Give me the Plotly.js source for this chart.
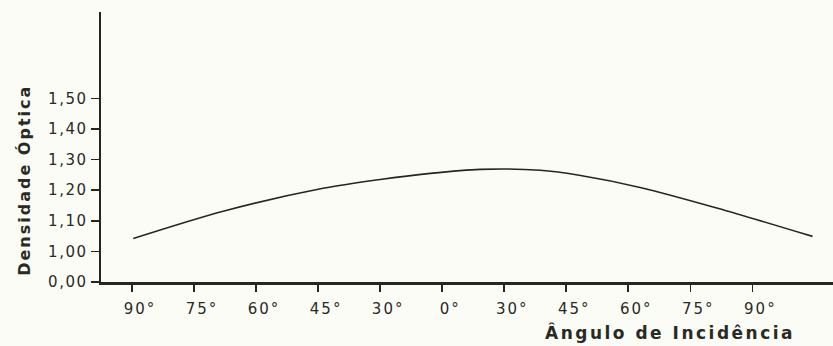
<!DOCTYPE html>
<html>
<head>
<meta charset="utf-8">
<script src="https://cdn.plot.ly/plotly-3.0.1.min.js"></script>
<style>
  html, body { margin: 0; padding: 0; background: #fcfcf7; }
  #chart { width: 833px; height: 346px; }
  .xtick text { letter-spacing: 2px; }
  .ytick text { letter-spacing: 1.5px; }
</style>
</head>
<body>
<div id="chart"></div>
<script>
// Tick labels of the angle axis (left side → right side)
var angleLabels = ["90°", "75°", "60°", "45°", "30°", "0°", "30°", "45°", "60°", "75°", "90°"];
var anglePositions = [0, 1, 2, 3, 4, 5, 6, 7, 8, 9, 10];

// Curve (position along the angle axis, optical density)
var curvePos = [0.02, 1.47, 3.08, 4.0, 4.81, 5.61, 6.58, 7.23, 8.19, 9.44, 10.97];
var density  = [1.042, 1.131, 1.206, 1.235, 1.255, 1.268, 1.265, 1.248, 1.209, 1.141, 1.049];

// Density axis ticks (bottom tick is the broken-axis "0,00")
var densTickVals = [0.9, 1.0, 1.1, 1.2, 1.3, 1.4, 1.5];
var densTickText = ["0,00", "1,00", "1,10", "1,20", "1,30", "1,40", "1,50"];

var ink = "#26261e";
var trace = {
  x: curvePos, y: density, mode: "lines", type: "scatter",
  line: { color: ink, width: 1.6, shape: "spline", smoothing: 0.8 },
  hoverinfo: "skip"
};

var layout = {
  width: 833, height: 346,
  margin: { l: 101, r: 0, t: 12, b: 64 },
  paper_bgcolor: "#fcfcf7", plot_bgcolor: "#fcfcf7",
  showlegend: false,
  font: { family: "DejaVu Sans, sans-serif", color: "#2a2a24", size: 15 },
  xaxis: {
    range: [-0.5, 11.3], showgrid: false, zeroline: false,
    showline: true, linecolor: ink, linewidth: 2.5,
    tickmode: "array", tickvals: anglePositions, ticktext: angleLabels,
    ticks: "outside", ticklen: 7, tickwidth: 1.6, tickcolor: ink,
    ticklabelshift: 8, ticklabelstandoff: 4,
    tickfont: { size: 15, color: "#2a2a24" }
  },
  yaxis: {
    range: [0.9, 1.782], showgrid: false, zeroline: false,
    showline: true, linecolor: ink, linewidth: 2.5,
    tickmode: "array", tickvals: densTickVals, ticktext: densTickText,
    ticks: "outside", ticklen: 8, tickwidth: 1.6, tickcolor: ink,
    ticklabelstandoff: 0,
    tickfont: { size: 15, color: "#2a2a24" }
  },
  annotations: [
    { text: "Ângulo de Incidência", xref: "paper", yref: "paper",
      x: 0.777, y: -0.186, xanchor: "center", yanchor: "middle", showarrow: false,
      font: { size: 17, color: "#2a2a24", weight: "bold" } },
    { text: "Densidade Óptica", xref: "paper", yref: "paper",
      x: -0.104, y: 0.378, xanchor: "center", yanchor: "middle", showarrow: false,
      textangle: -90, font: { size: 16, color: "#2a2a24", weight: "bold" } }
  ]
};

Plotly.newPlot("chart", [trace], layout, { staticPlot: true, displayModeBar: false }).then(function () {
  var anns = document.querySelectorAll(".annotation-text");
  anns[0] && (anns[0].style.letterSpacing = "2.5px");
  anns[1] && (anns[1].style.letterSpacing = "2px");
});
</script>
</body>
</html>
